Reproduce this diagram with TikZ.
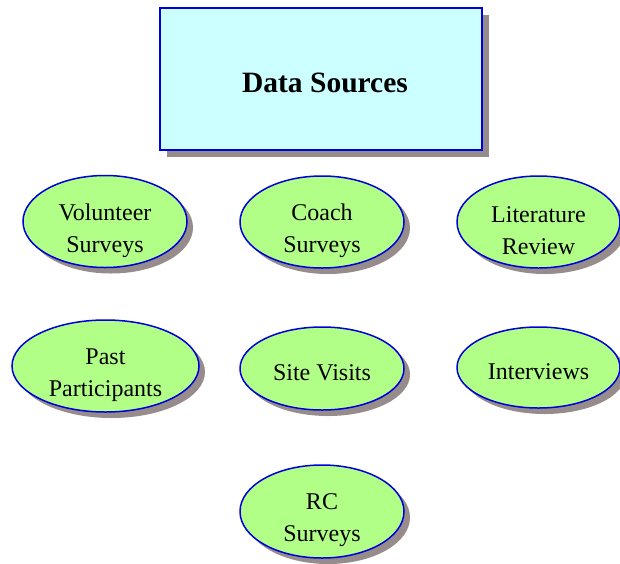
\documentclass[tikz,border=0pt]{standalone}
\usepackage{fontspec}
\setmainfont{Liberation Serif}
\usetikzlibrary{shapes.geometric,shadows}
\definecolor{boxfill}{RGB}{204,255,255}
\definecolor{ovalfill}{RGB}{178,255,136}
\definecolor{edgeblue}{RGB}{0,0,220}
\definecolor{shgrey}{RGB}{150,140,140}
\tikzset{
  titlebox/.style={draw=edgeblue, line width=2pt, fill=boxfill, minimum width=322pt, minimum height=142pt, inner sep=0pt,
    drop shadow={shadow xshift=7pt, shadow yshift=-7pt, fill=shgrey, opacity=1}},
  titletext/.style={font=\fontsize{29.5}{34}\selectfont\bfseries, yshift=-4pt, xshift=4pt},
  source/.style={ellipse, draw=edgeblue, line width=1.5pt, fill=ovalfill, inner sep=0pt,
    drop shadow={shadow xshift=6pt, shadow yshift=-6pt, fill=shgrey, opacity=1}},
  srctext/.style={align=center, font=\fontsize{24}{32}\selectfont, yshift=-9pt},
  srcone/.style={align=center, font=\fontsize{24}{32}\selectfont, yshift=-4pt}
}
\begin{document}
\begin{tikzpicture}[x=1pt,y=-1pt]
\useasboundingbox (0,0) rectangle (620,563);
\node[titlebox, label={[titletext]center:Data Sources}] (title) at (321,78.5) {};
\node[source, minimum width=164pt, minimum height=92pt, label={[srctext]center:Volunteer\\Surveys}] (vol) at (105,221.5) {};
\node[source, minimum width=164pt, minimum height=92pt, label={[srctext]center:Coach\\Surveys}] (coach) at (322,222) {};
\node[source, minimum width=163pt, minimum height=92pt, label={[srctext]center:Literature\\Review}] (lit) at (538.5,222) {};
\node[source, minimum width=187pt, minimum height=92pt, label={[srctext]center:Past\\Participants}] (past) at (105.5,366) {};
\node[source, minimum width=164pt, minimum height=83pt, label={[srcone]center:Site Visits}] (site) at (322,368.5) {};
\node[source, minimum width=163pt, minimum height=81pt, label={[srcone]center:Interviews}] (inter) at (538.5,367.5) {};
\node[source, minimum width=164pt, minimum height=93pt, label={[srctext]center:RC\\Surveys}] (rc) at (322,511.5) {};
\end{tikzpicture}
\end{document}
